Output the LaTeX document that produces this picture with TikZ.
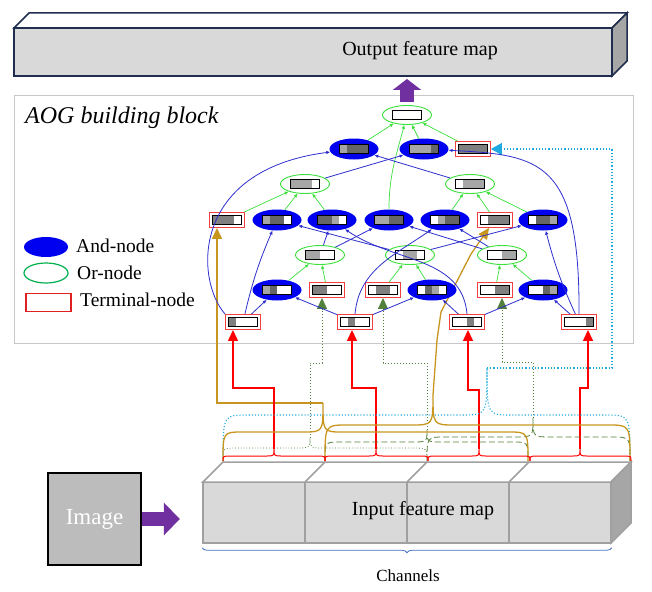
\documentclass[tikz,border=0pt]{standalone}
\usepackage{fontspec}
\setmainfont{Liberation Serif}
\usetikzlibrary{shapes.geometric,arrows.meta,decorations.pathreplacing,backgrounds}

\definecolor{andblue}{HTML}{0000F0}
\definecolor{orgreen}{HTML}{3BE03B}
\definecolor{termred}{HTML}{F04040}
\definecolor{edgeblue}{HTML}{2F2FCF}
\definecolor{feedgold}{HTML}{C8961E}
\definecolor{feedgreen}{HTML}{53803A}
\definecolor{feedcyan}{HTML}{1FA9E1}
\definecolor{feedred}{HTML}{FF0000}
\definecolor{arrowpurple}{HTML}{7030A0}
\definecolor{leggreen}{HTML}{00B050}
\definecolor{legred}{HTML}{E02020}
\definecolor{boxgrey}{HTML}{C8C8C8}
\definecolor{facegrey}{HTML}{D9D9D9}
\definecolor{sidegrey}{HTML}{A6A6A6}
\definecolor{edgegrey}{HTML}{A0A0A0}
\definecolor{navy}{HTML}{1F2D4E}
\definecolor{braceblue}{HTML}{4472C4}
\definecolor{cW}{HTML}{FFFFFF}
\definecolor{cL}{HTML}{A6A6A6}
\definecolor{cD}{HTML}{666666}
\definecolor{cM}{HTML}{808080}

\newcommand{\cellbar}[4]{{\setlength{\fboxsep}{0pt}\setlength{\fboxrule}{0.9pt}\fbox{\textcolor{#1}{\rule{6.8pt}{8.5pt}}\rule{0.4pt}{8.5pt}\textcolor{#2}{\rule{6.8pt}{8.5pt}}\rule{0.4pt}{8.5pt}\textcolor{#3}{\rule{6.8pt}{8.5pt}}\rule{0.4pt}{8.5pt}\textcolor{#4}{\rule{6.8pt}{8.5pt}}}}}
\newcommand{\featbrace}[8]{\draw[#1] (#3,461) .. controls (#3,#6) .. (#3+#8,#6) -- (#5-#8,#6) .. controls (#5,#6) .. (#5,#7) coordinate (#2) .. controls (#5,#6) .. (#5+#8,#6) -- (#4-#8,#6) .. controls (#4,#6) .. (#4,461);}

\tikzstyle{andnode}=[ellipse, fill=andblue, minimum width=49pt, minimum height=21pt, inner sep=0pt]
\tikzstyle{ornode}=[ellipse, draw=orgreen, fill=white, line width=0.9pt, minimum width=49pt, minimum height=19pt, inner sep=0pt]
\tikzstyle{termnode}=[rectangle, draw=termred, fill=white, line width=0.9pt, minimum width=35pt, minimum height=15pt, inner sep=0pt]
\tikzstyle{oredge}=[draw=orgreen, line width=0.7pt, -{Latex[length=4pt,width=3.5pt]}]
\tikzstyle{andedge}=[draw=edgeblue, line width=0.8pt, -{Latex[length=4pt,width=3.5pt]}]
\tikzstyle{redfeed}=[draw=feedred, line width=1.3pt, -{Triangle[length=11pt,width=10pt]}]
\tikzstyle{goldfeed}=[draw=feedgold, line width=1.3pt, -{Triangle[length=11pt,width=10pt]}]
\tikzstyle{greenfeed}=[draw=feedgreen, line width=1pt, dotted, -{Triangle[length=11pt,width=10pt]}]
\tikzstyle{cyanfeed}=[draw=feedcyan, line width=1.2pt, dotted, -{Triangle[length=11pt,width=12pt]}]
\tikzstyle{redbrace}=[draw=feedred, line width=1pt]
\tikzstyle{goldbrace}=[draw=feedgold, line width=1.3pt]
\tikzstyle{greenbrace}=[draw=feedgreen, line width=0.8pt, dash pattern=on 6pt off 3pt]
\tikzstyle{cyanbrace}=[draw=feedcyan, line width=1.1pt, dotted]
\tikzstyle{chanbox}=[rectangle, draw=edgegrey, fill=facegrey, line width=1.5pt, minimum width=102pt, minimum height=61pt, inner sep=0pt]
\tikzstyle{purplearrow}=[draw=arrowpurple, line width=14pt]
\tikzstyle{bigtext}=[inner sep=0pt, font=\fontsize{19.5}{22}\selectfont]

\begin{document}
\begin{tikzpicture}[x=1pt, y=-1pt]
    \useasboundingbox (0,0) rectangle (652,591);
    \begin{scope}[on background layer]
    \node[draw=boxgrey, fill=white, line width=1pt, minimum width=619pt, minimum height=247pt, inner sep=0pt] (aog) at (323.5,219.5) {};
    \end{scope}
    \node[anchor=west, inner sep=0pt, font=\itshape\fontsize{24}{26}\selectfont] (aogtitle) at (25,118) {AOG building block};

    \node[rectangle, draw=navy, fill=facegrey, line width=1.5pt, minimum width=598pt, minimum height=48pt, inner sep=0pt] (outmap) at (313,52) {};
    \draw[draw=navy, fill=white, line width=1.5pt] (14,28) -- (29,13) -- (627,13) -- (612,28) -- cycle;
    \draw[draw=navy, fill=sidegrey, line width=1.5pt] (612,28) -- (627,13) -- (627,61) -- (612,76) -- cycle;
    \node[inner sep=0pt, font=\fontsize{20}{22}\selectfont] (outtext) at (420,51) {Output feature map};

    \node[rectangle, draw=black, fill=sidegrey!75, line width=1.6pt, minimum width=93pt, minimum height=92pt, inner sep=0pt, text=white, font=\fontsize{23}{26}\selectfont] (img) at (94.5,519) {Image};

    \node[chanbox] (ch1) at (254,512.5) {};
    \node[chanbox] (ch2) at (356,512.5) {};
    \node[chanbox] (ch3) at (458,512.5) {};
    \node[chanbox] (ch4) at (560,512.5) {};
    \draw[draw=edgegrey, fill=white, line width=1.5pt] (203,482) -- (223,462) -- (631,462) -- (611,482) -- cycle;
    \draw[draw=edgegrey, line width=1.5pt] (305,482) -- (325,462) (407,482) -- (427,462) (509,482) -- (529,462);
    \draw[draw=edgegrey, fill=sidegrey, line width=1.5pt] (611,482) -- (631,462) -- (631,523) -- (611,543) -- cycle;
    \node[inner sep=0pt, font=\fontsize{20}{22}\selectfont] (intext) at (423,511) {Input feature map};
    \draw[draw=braceblue, line width=0.8pt, decorate, decoration={brace, mirror, amplitude=5pt}] ([yshift=-4pt]ch1.south west) -- ([yshift=-4pt]ch4.south east);
    \node[inner sep=0pt, font=\fontsize{17}{20}\selectfont] (chantext) at (408,576) {Channels};

    \draw[purplearrow, -{Triangle[width=32pt,length=16pt]}] (img.east) -- ++(38,0);
    \draw[purplearrow, -{Triangle[width=28pt,length=11pt]}, shorten <=-6pt, shorten >=3pt] (407,96) -- (407,76);

    \node[andnode, minimum width=44pt, minimum height=20pt] (legand) at (46,247) {};
    \node[bigtext, anchor=west] (legandtext) at (76,246) {And-node};
    \node[ellipse, draw=leggreen, line width=1.2pt, minimum width=44pt, minimum height=20pt] (legor) at (46,273) {};
    \node[bigtext, anchor=west] (legortext) at (77,273) {Or-node};
    \node[rectangle, draw=legred, line width=1.2pt, minimum width=45pt, minimum height=18pt] (legterm) at (48.5,302.5) {};
    \node[bigtext, anchor=west] (legtermtext) at (80,300) {Terminal-node};

    \node[ornode] (root) at (407,115) {\cellbar{cW}{cW}{cW}{cW}};
    \node[andnode] (a1l) at (354,149) {\cellbar{cL}{cD}{cD}{cD}};
    \node[andnode] (a1r) at (424,149) {\cellbar{cL}{cL}{cL}{cD}};
    \node[termnode] (t1) at (473,149) {\cellbar{cM}{cM}{cM}{cM}};
    \node[ornode] (o2l) at (305,184) {\cellbar{cL}{cL}{cL}{cW}};
    \node[ornode] (o2r) at (470,184) {\cellbar{cW}{cL}{cL}{cL}};
    \node[termnode] (t3a) at (227,220) {\cellbar{cM}{cM}{cM}{cW}};
    \node[andnode] (a3b) at (277,220) {\cellbar{cL}{cD}{cD}{cW}};
    \node[andnode] (a3c) at (332,220) {\cellbar{cD}{cD}{cL}{cW}};
    \node[andnode] (a3d) at (389,220) {\cellbar{cL}{cL}{cD}{cD}};
    \node[andnode] (a3e) at (445,220) {\cellbar{cW}{cL}{cD}{cD}};
    \node[termnode] (t3f) at (495,220) {\cellbar{cW}{cM}{cM}{cM}};
    \node[andnode] (a3g) at (543,220) {\cellbar{cW}{cD}{cD}{cL}};
    \node[ornode] (o4a) at (320,255) {\cellbar{cL}{cL}{cW}{cW}};
    \node[ornode] (o4b) at (410,255) {\cellbar{cW}{cL}{cL}{cW}};
    \node[ornode] (o4c) at (502,255) {\cellbar{cW}{cW}{cL}{cL}};
    \node[andnode] (a5b) at (277,290) {\cellbar{cL}{cD}{cW}{cW}};
    \node[termnode] (t5a) at (327,290) {\cellbar{cM}{cM}{cW}{cW}};
    \node[termnode] (t5c) at (383,290) {\cellbar{cW}{cM}{cM}{cW}};
    \node[andnode] (a5d) at (432,290) {\cellbar{cW}{cD}{cL}{cW}};
    \node[termnode] (t5e) at (495,290) {\cellbar{cW}{cW}{cM}{cM}};
    \node[andnode] (a5f) at (543,290) {\cellbar{cW}{cW}{cD}{cL}};
    \node[termnode] (t6a) at (243,322) {\cellbar{cM}{cW}{cW}{cW}};
    \node[termnode] (t6b) at (355,322) {\cellbar{cW}{cM}{cW}{cW}};
    \node[termnode] (t6c) at (467,322) {\cellbar{cW}{cW}{cM}{cW}};
    \node[termnode] (t6d) at (579,322) {\cellbar{cW}{cW}{cW}{cM}};

    \draw[oredge] (a1l) to (root);
    \draw[oredge] (a1r) to (root);
    \draw[oredge] (t1) to (root);
    \draw[oredge] (a3d) to[out=90, in=255] (root);
    \draw[oredge] (t3a) to (o2l);
    \draw[oredge] (a3b) to (o2l);
    \draw[oredge] (a3c) to (o2l);
    \draw[oredge] (a3e) to (o2r);
    \draw[oredge] (t3f) to (o2r);
    \draw[oredge] (a3g) to (o2r);
    \draw[oredge] (a5b) to (o4a);
    \draw[oredge] (t5a) to (o4a);
    \draw[oredge] (t5c) to (o4b);
    \draw[oredge] (a5d) to (o4b);
    \draw[oredge] (t5e) to (o4c);
    \draw[oredge] (a5f) to (o4c);

    \draw[andedge] (t6a.north west) .. controls (195,280) and (190,170) .. (a1l);
    \draw[andedge] (o2r) to (a1l);
    \draw[andedge] (o2l) to (a1r);
    \draw[andedge] (t6d.north) .. controls (580,160) and (540,155) .. (a1r);
    \draw[andedge, bend left=5] (t6a) to (a3b);
    \draw[andedge] (o4b) to (a3b);
    \draw[andedge] (o4a) to (a3c);
    \draw[andedge] (t6c.north) to[out=95, in=-35] (a3c);
    \draw[andedge] (o4a) to (a3d);
    \draw[andedge] (o4c) to (a3d);
    \draw[andedge] (t6b.north) to[out=85, in=215] (a3e);
    \draw[andedge] (o4c) to (a3e);
    \draw[andedge] (o4b) to (a3g);
    \draw[andedge, bend left=5] (t6d) to (a3g);
    \draw[andedge] (t6a) to (a5b);
    \draw[andedge] (t6b) to (a5b);
    \draw[andedge] (t6b) to (a5d);
    \draw[andedge] (t6c) to (a5d);
    \draw[andedge] (t6c) to (a5f);
    \draw[andedge] (t6d) to (a5f);

    \featbrace{cyanbrace}{ctip}{223}{630}{487}{415}{368}{25}
    \featbrace{greenbrace, dotted}{ntipa}{223}{427}{310}{448}{438}{15}
    \featbrace{greenbrace}{ntipb}{325}{528}{427}{442}{430}{15}
    \featbrace{greenbrace}{ntipc}{427}{630}{533}{437}{418}{18}
    \featbrace{goldbrace}{gtip1}{223}{528}{323}{432}{403}{20}
    \featbrace{goldbrace}{gtip2}{325}{630}{433}{425}{395}{22}
    \featbrace{redbrace}{rtip1}{223}{325}{274}{456}{449}{8}
    \featbrace{redbrace}{rtip2}{325}{428}{376}{456}{449}{8}
    \featbrace{redbrace}{rtip3}{428}{530}{479}{456}{449}{8}
    \featbrace{redbrace}{rtip4}{530}{631}{580}{456}{449}{8}

    \begin{scope}[on background layer]
    \draw[cyanfeed] (ctip) -- ++(125,0) |- (t1.east);
    \draw[greenfeed] (ntipa) -- ++(0,-75) -| ([xshift=-5pt]t5a.south);
    \draw[greenfeed] (ntipb) -- ++(0,-67) -| (t5c.south);
    \draw[greenfeed] (ntipc) -- ++(0,-56) -| ([xshift=7pt]t5e.south);
    \draw[goldfeed] (gtip1) -| ([xshift=-10pt]t3a.south);
    \draw[goldfeed] (gtip2) -- (437,340) -- (441,312) -- (471,254) -- ([xshift=-6pt]t3f.south);
    \draw[redfeed] (rtip1) -- ++(0,-61) -| ([xshift=-10pt]t6a.south);
    \draw[redfeed] (rtip2) -- ++(0,-61) -| ([xshift=-3pt]t6b.south);
    \draw[redfeed] (rtip3) -- ++(0,-59) -| ([xshift=1pt]t6c.south);
    \draw[redfeed] (rtip4) -- ++(0,-61) -| ([xshift=9pt]t6d.south);
    \end{scope}
\end{tikzpicture}
\end{document}
